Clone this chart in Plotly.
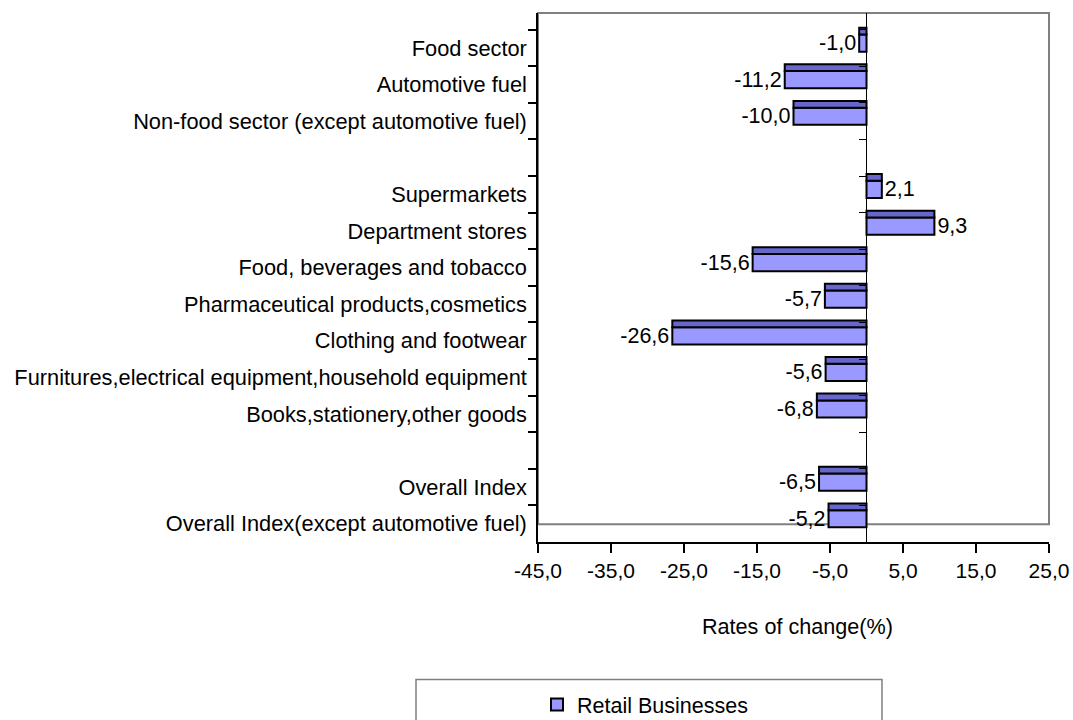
import plotly.graph_objects as go

categories = [
    "Food sector",
    "Automotive fuel",
    "Non-food sector (except automotive fuel)",
    " ",
    "Supermarkets",
    "Department stores",
    "Food, beverages and tobacco",
    "Pharmaceutical products,cosmetics",
    "Clothing and footwear",
    "Furnitures,electrical equipment,household equipment",
    "Books,stationery,other goods",
    "  ",
    "Overall Index",
    "Overall Index(except automotive fuel)",
]
values = [-1.0, -11.2, -10.0, None, 2.1, 9.3, -15.6, -5.7, -26.6, -5.6, -6.8, None, -6.5, -5.2]
series_name = "Retail Businesses"
x_ticks = [-45, -35, -25, -15, -5, 5, 15, 25]


def fmt(v):
    return "" if v is None else f"{v:.1f}".replace(".", ",")


labels = [fmt(v) for v in values]
x_ticktext = [fmt(float(t)) for t in x_ticks]

FONT = "Liberation Sans, Arial, sans-serif"
W, H = 1073, 720
L, R, T, B = 538, 1049, 13.3, 541.7
plot_h = B - T
step = (541.7 - 30.0) / 14.0
y_top = -0.5 - (30.0 - T) / step
y_range = [13.5, y_top]

LIGHT = "#9999FF"
DARK = "#6666CC"

fig = go.Figure()
# front face of the 3-D bar (carries the labels and the legend entry)
fig.add_trace(go.Bar(
    y=categories, x=values, orientation="h", name=series_name,
    marker=dict(color=LIGHT, line=dict(color="black", width=2)),
    width=0.47, offset=-0.37,
    text=labels, textposition="outside", cliponaxis=False,
    constraintext="none",
    textfont=dict(family=FONT, size=21.5, color="black"),
    showlegend=True,
))
# top face of the 3-D bar
fig.add_trace(go.Bar(
    y=categories, x=values, orientation="h", name=series_name,
    marker=dict(color=DARK, line=dict(color="black", width=2)),
    width=0.185, offset=-0.555,
    showlegend=False, yaxis="y2",
))


def px_x(p):
    return (p - L) / (R - L)


def px_y(p):
    return (B - p) / plot_h


fig.update_layout(
    width=W, height=H,
    margin=dict(l=L, r=W - R, t=T, b=H - B, autoexpand=False, pad=0),
    paper_bgcolor="white", plot_bgcolor="white",
    barmode="overlay",
    font=dict(family=FONT, size=21, color="black"),
    xaxis=dict(
        range=[-45, 25], tickvals=x_ticks, ticktext=x_ticktext,
        showgrid=False, zeroline=True, zerolinecolor="black", zerolinewidth=1,
        showline=True, linecolor="black", linewidth=1.5,
        ticks="outside", ticklen=9, tickcolor="black", tickwidth=1.5,
        tickfont=dict(family=FONT, size=21, color="black"),
        ticklabeloverflow="allow",
        fixedrange=True,
    ),
    yaxis=dict(
        type="category", categoryorder="array", categoryarray=categories,
        range=y_range, showgrid=False, zeroline=False,
        showline=True, linecolor="black", linewidth=1.5,
        ticks="outside", ticklen=8, tickcolor="black", tickwidth=1.5,
        tickson="boundaries",
        tickfont=dict(family=FONT, size=21.8, color="black"),
        ticklabelstandoff=5,
    ),
    yaxis2=dict(
        type="category", categoryorder="array", categoryarray=categories,
        range=y_range, overlaying="y", anchor="free", position=px_x(866),
        showgrid=False, zeroline=False, showline=False,
        ticks="outside", ticklen=7, tickcolor="black", tickwidth=1,
        tickson="boundaries", showticklabels=False,
    ),
    shapes=[
        dict(type="rect", xref="paper", yref="paper",
             x0=0, x1=1, y0=px_y(524), y1=1,
             line=dict(color="#808080", width=2), layer="below"),
        dict(type="rect", xref="paper", yref="paper",
             x0=px_x(416), x1=px_x(882), y0=px_y(679), y1=px_y(730),
             line=dict(color="#808080", width=1.5), fillcolor="rgba(0,0,0,0)"),
    ],
    annotations=[
        dict(text="Rates of change(%)", xref="paper", yref="paper",
             x=px_x(797), y=px_y(626), xanchor="center", yanchor="middle",
             showarrow=False, font=dict(family=FONT, size=21.6, color="black")),
    ],
    legend=dict(
        orientation="h", xanchor="left", yanchor="middle",
        x=px_x(537), y=px_y(704),
        font=dict(family=FONT, size=21.5, color="black"),
        bgcolor="rgba(0,0,0,0)", borderwidth=0,
        itemwidth=30,
    ),
)

fig.write_html(
    "out.html",
    config={"displayModeBar": False},
    post_script="document.body.style.margin='0';document.body.style.overflow='hidden';",
)
